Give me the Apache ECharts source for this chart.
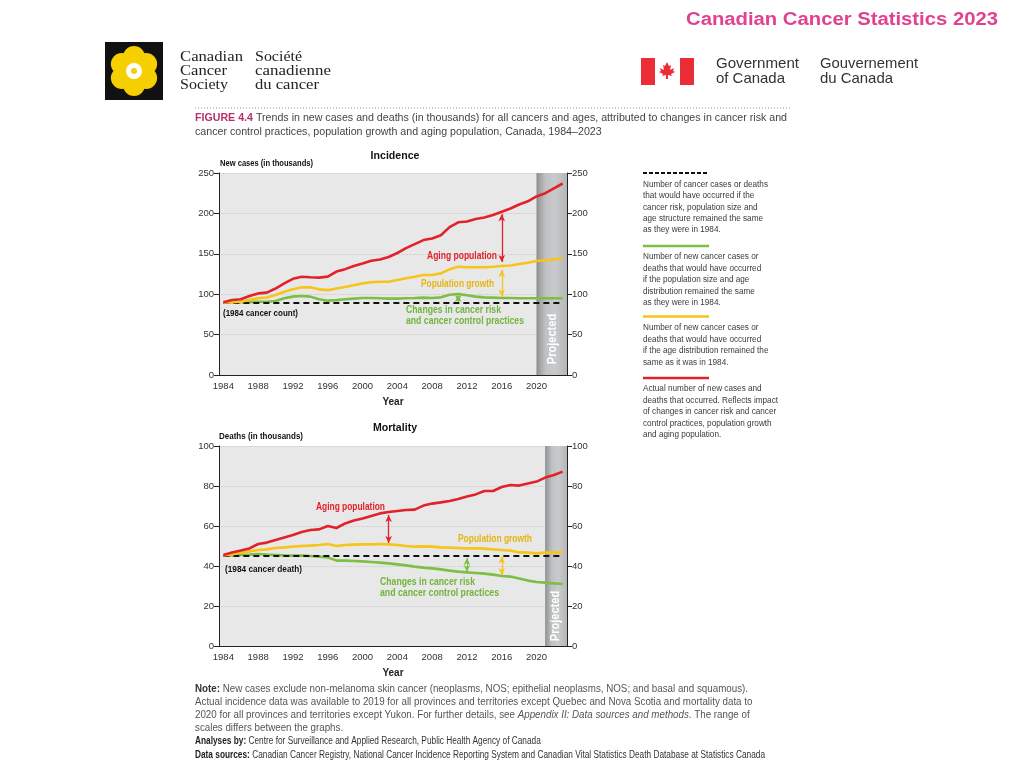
<!DOCTYPE html>
<html><head><meta charset="utf-8">
<script src="https://cdn.jsdelivr.net/npm/echarts@6/dist/echarts.min.js"></script>
<style>html,body{margin:0;padding:0;background:#fff}#c{width:1024px;height:768px}</style>
</head><body><div id="c"></div>
<script>
// ---------- DATA ----------
const years = ['1984','1985','1986','1987','1988','1989','1990','1991','1992','1993','1994','1995','1996','1997','1998','1999','2000','2001','2002','2003','2004','2005','2006','2007','2008','2009','2010','2011','2012','2013','2014','2015','2016','2017','2018','2019','2020','2021','2022','2023'];
// Incidence (new cases, thousands)
const incActual = [90,92.8,93.7,97.8,101,102,107,113.4,119,121.6,121,120.5,121.7,128,131,135,138,141.5,143,146,151,157,162,167,169,173,183,189,190,193,195,198,202,206,211,215,221,225,231,237];
const incPopGrowth = [89.5,90.2,90.7,93,95,96,99,103,106,108.5,108.5,106,105,107,109,111,113.4,114.7,115.5,115.5,117.6,119.7,121.7,123.8,123.8,125.8,130.8,134,133.3,133.3,133.3,134,135,135.5,137.4,139,141,142,143,144.5];
const incRisk = [89.5,90,90,90.2,90.7,90.7,91.6,94.9,97,97.8,97,93.7,92,92.7,93.7,94.5,95.3,95.3,95,94.5,94.5,95,95.3,95.8,95.3,96.1,99.4,100.2,98.6,97,96.1,95.8,95.3,95.3,95,95,95,95,95,95];
const incBase = 89.5;
const incProjectedFrom = 2020;
// Mortality (deaths, thousands)
const mortActual = [45.5,46.7,47.7,48.8,51,51.7,53,54.3,55.5,57,58,58.3,60,59,61.3,62.7,63.7,65,66.3,67,67.5,68,68.2,70.2,71.2,71.8,72.5,73.5,74.8,75.8,77.5,77.5,79.5,80.5,80.2,81.2,82.2,84.2,85.5,87.2];
const mortPopGrowth = [45.3,45.8,46.7,47.3,48,48.3,49,49.3,49.7,50,50.2,50.5,51,50,50.5,50.7,50.8,50.8,51,50.8,50.5,50,49.7,49.8,49.7,49.3,49.2,49,48.8,48.8,48.7,48.3,48,47.7,46.8,46.7,46.3,46.7,46.7,46.7];
const mortRisk = [45.3,45.3,45.5,45.7,46,45.7,45.5,45.3,45.2,45.2,45,44.7,44.3,42.7,42.7,42.5,42.3,42,41.7,41.3,40.8,40.3,39.7,39.2,38.8,38.3,37.7,37.2,36.8,36.5,36.2,35.7,35,34.7,33.7,32.7,32,31.7,31.3,31];
const mortBase = 45;
const mortProjectedFrom = 2021;
// Annotation arrows: [year, from, to]
const incArrowAging = ['2016', 199, 140];
const incArrowPop = ['2016', 130, 97];
const incArrowRisk = ['2011', 90.5, 99];
const mortArrowAging = ['2003', 65.5, 51.5];
const mortArrowPop = ['2016', 44.7, 35.5];
const mortArrowRisk = ['2012', 44, 37];
// Axis ticks
const incTicks = {min:0, max:250, interval:50};
const mortTicks = {min:0, max:100, interval:20};

// ---------- STYLE / HELPERS ----------
const FAM = "'Liberation Sans',Arial,sans-serif";
const SERIF = "'Liberation Serif',serif";
const RED = '#e2222a', YEL = '#f7c41a', GRN = '#7dbf44', YELT = '#e6b513', GRNT = '#72b43c';
const bandColor = {type:'linear', x:0, y:0, x2:1, y2:0, colorStops:[
  {offset:0, color:'#7e8082'},{offset:0.06, color:'#999b9d'},{offset:0.3, color:'#bfc1c3'},{offset:0.6, color:'#c8cacb'},{offset:1, color:'#b4b6b8'}]};

const mctx = document.createElement('canvas').getContext('2d');
function fontStr(seg){ return (seg.st||'normal') + ' ' + (seg.w||'normal') + ' ' + seg.s + 'px ' + (seg.f||FAM); }
function segWidth(segs){ return segs.reduce((a,sg)=>{ mctx.font = fontStr(sg); return a + mctx.measureText(sg.t).width; }, 0); }
// rich text element; scale = horizontal scale
function rtext(x, y, segs, scale, align, extra){
  const rich = {}; let text = '';
  segs.forEach((sg,i)=>{
    rich['s'+i] = {fontFamily:sg.f||FAM, fontSize:sg.s, fontWeight:sg.w||'normal', fontStyle:sg.st||'normal', fill:sg.c, lineHeight:sg.s+2};
    text += '{s'+i+'|' + sg.t.replace(/[{}|]/g,'') + '}';
  });
  return Object.assign({type:'text', x, y, z:100, zlevel:0, silent:true, scaleX:scale, scaleY:1,
    style:{text, rich, fill:segs[0].c, textAlign:align||'left', textVerticalAlign:'middle'}}, extra||{});
}
function fitScale(segs, target){ return target / segWidth(segs); }
function ftext(x, y, segs, target, align, extra){ return rtext(x, y, segs, fitScale(segs, target), align, extra); }
const S = (t, s, c, w, st, f) => ({t, s, c, w, st, f});

const chart = echarts.init(document.getElementById('c'), null, {renderer:'canvas'});

function xCat(gi){
  return {type:'category', gridIndex:gi, data:years, boundaryGap:true,
    axisLine:{lineStyle:{color:'#222', width:1}},
    axisTick:{alignWithLabel:true, interval:0, length:5, lineStyle:{color:'#222'}},
    axisLabel:{interval:3, color:'#333', fontFamily:FAM, fontSize:9.5, margin:6},
    name:'Year', nameLocation:'middle', nameGap:22,
    nameTextStyle:{fontFamily:FAM, fontWeight:'bold', fontSize:10, color:'#222'}};
}
function xVal(gi){
  return {type:'value', gridIndex:gi, min:1983.5, max:2023.5, show:false, splitLine:{show:false}};
}
function yAx(gi, t, pos){
  return {type:'value', gridIndex:gi, position:pos, min:t.min, max:t.max, interval:t.interval,
    axisLine:{show:true, lineStyle:{color:'#222'}},
    axisTick:{show:true, length:5, lineStyle:{color:'#222'}},
    axisLabel:{color:'#333', fontFamily:FAM, fontSize:9.5, margin:5},
    splitLine:{show:pos==='left', lineStyle:{color:'#cacaca', type:'dotted', width:1}}};
}
function line(name, data, color, xi, yi, z){
  return {name, type:'line', data, xAxisIndex:xi, yAxisIndex:yi, symbol:'none', z,
    lineStyle:{color, width:2.6}, itemStyle:{color}, silent:true, animation:false};
}
function arrowML(a, color, w){
  return {silent:true, symbol:['arrow','arrow'], symbolSize:[5,7], label:{show:false}, animation:false,
    lineStyle:{type:'solid', color, width:w},
    data:[[{coord:[a[0], a[1]]}, {coord:[a[0], a[2]]}]]};
}
function baseML(v){
  return {silent:true, symbol:'none', label:{show:false}, lineStyle:{color:'#111', width:2.2, type:[6,4]},
    data:[[{coord:[years[0], v]}, {coord:[years[years.length-1], v]}]]};
}

const mapleLeaf = [[0,-9],[2,-5],[4,-6],[3,-1],[7,-3],[6,0],[8,1],[4,3],[5,5],[1,4],[1,8],[-1,8],[-1,4],[-5,5],[-4,3],[-8,1],[-6,0],[-7,-3],[-3,-1],[-4,-6],[-2,-5]].map(p=>[667+p[0], 71+p[1]]);

const petals = [];
for (let i=0;i<6;i++){
  const a = i*Math.PI/3 - Math.PI/2;
  petals.push({type:'circle', z:100, shape:{cx:134+Math.cos(a)*14, cy:71+Math.sin(a)*14, r:11}, style:{fill:'#f5cf00'}, silent:true});
}

// legend
const LG = 9.6;
const legScale = fitScale([S('Number of cancer cases or deaths', LG)], 125);
const legendBlocks = [
  {y:173, dash:true, color:'#111', lines:['Number of cancer cases or deaths','that would have occurred if the','cancer risk, population size and','age structure remained the same','as they were in 1984.'], ty:184},
  {y:246, color:GRN, lines:['Number of new cancer cases or','deaths that would have occurred','if the population size and age','distribution remained the same','as they were in 1984.'], ty:256.5},
  {y:316.5, color:YEL, lines:['Number of new cancer cases or','deaths that would have occurred','if the age distribution remained the','same as it was in 1984.'], ty:327.5},
  {y:378, color:RED, lines:['Actual number of new cases and','deaths that occurred. Reflects impact','of changes in cancer risk and cancer','control practices, population growth','and aging population.'], ty:388.5}
];
const legendEls = [];
legendBlocks.forEach(b=>{
  legendEls.push({type:'line', z:100, silent:true, shape:{x1:643, y1:b.y, x2:709, y2:b.y},
    style:{stroke:b.color, lineWidth:b.dash?2:2.6, lineDash:b.dash?[4,2]:null}});
  b.lines.forEach((t,i)=> legendEls.push(rtext(643, b.ty + i*11.45, [S(t, LG, '#3a3a3a')], legScale)));
});

// figure title
const t1 = [S('FIGURE 4.4', 11, '#b5316a', 'bold'), S(' Trends in new cases and deaths (in thousands) for all cancers and ages, attributed to changes in cancer risk and', 11, '#444')];
const titleScale = fitScale(t1, 592);
// footer
const n1 = [S('Note:', 10, '#333', 'bold'), S(' New cases exclude non-melanoma skin cancer (neoplasms, NOS; epithelial neoplasms, NOS; and basal and squamous).', 10, '#555')];
const noteScale = fitScale(n1, 553);
const ds = [S('Data sources:', 10, '#222', 'bold'), S(' Canadian Cancer Registry, National Cancer Incidence Reporting System and Canadian Vital Statistics Death Database at Statistics Canada', 10, '#333')];
const dsScale = fitScale(ds, 570);

const AB = 10; // annotation bold size
const option = {
  animation:false,
  backgroundColor:'#ffffff',
  grid:[
    {left:219, top:173, width:348, height:202, show:true, backgroundColor:'#e8e8e8', borderWidth:0},
    {left:219, top:446, width:348, height:200, show:true, backgroundColor:'#e8e8e8', borderWidth:0}
  ],
  xAxis:[xCat(0), xVal(0), xCat(1), xVal(1)],
  yAxis:[yAx(0, incTicks, 'left'), yAx(0, incTicks, 'right'), yAx(1, mortTicks, 'left'), yAx(1, mortTicks, 'right')],
  series:[
    {type:'line', xAxisIndex:1, yAxisIndex:0, data:[], silent:true, z:1,
      markArea:{silent:true, itemStyle:{color:bandColor}, data:[[{xAxis:incProjectedFrom},{xAxis:2023.5}]]}},
    {type:'line', xAxisIndex:3, yAxisIndex:2, data:[], silent:true, z:1,
      markArea:{silent:true, itemStyle:{color:bandColor}, data:[[{xAxis:mortProjectedFrom},{xAxis:2023.5}]]}},
    Object.assign(line('Risk', incRisk, GRN, 0, 0, 3), {markLine:arrowML(incArrowRisk, GRN, 1)}),
    Object.assign(line('Base', [], '#000', 0, 0, 4), {markLine:baseML(incBase)}),
    Object.assign(line('PopGrowth', incPopGrowth, YEL, 0, 0, 5), {markLine:arrowML(incArrowPop, YEL, 1.3)}),
    Object.assign(line('Actual', incActual, RED, 0, 0, 6), {markLine:arrowML(incArrowAging, RED, 1.3)}),
    Object.assign(line('Risk', mortRisk, GRN, 2, 2, 3), {markLine:arrowML(mortArrowRisk, GRN, 1)}),
    Object.assign(line('Base', [], '#000', 2, 2, 4), {markLine:baseML(mortBase)}),
    Object.assign(line('PopGrowth', mortPopGrowth, YEL, 2, 2, 5), {markLine:arrowML(mortArrowPop, YEL, 1.3)}),
    Object.assign(line('Actual', mortActual, RED, 2, 2, 6), {markLine:arrowML(mortArrowAging, RED, 1.3)})
  ],
  graphic:[
    // header title
    ftext(686, 20, [S('Canadian Cancer Statistics 2023', 18, '#e2418f', 'bold')], 312),
    // Canadian Cancer Society logo
    {type:'rect', z:100, shape:{x:105, y:42, width:58, height:58}, style:{fill:'#111'}, silent:true},
    ...petals,
    {type:'circle', z:100, shape:{cx:134, cy:71, r:8}, style:{fill:'#ffffff'}, silent:true},
    {type:'circle', z:100, shape:{cx:134, cy:71, r:3}, style:{fill:'#f5cf00'}, silent:true},
    ftext(180, 57, [S('Canadian', 15, '#222', 'normal', null, SERIF)], 63),
    ftext(180, 71, [S('Cancer', 15, '#222', 'normal', null, SERIF)], 47),
    ftext(180, 85, [S('Society', 15, '#222', 'normal', null, SERIF)], 48),
    ftext(255, 57, [S('Société', 15, '#222', 'normal', null, SERIF)], 47),
    ftext(255, 71, [S('canadienne', 15, '#222', 'normal', null, SERIF)], 76),
    ftext(255, 85, [S('du cancer', 15, '#222', 'normal', null, SERIF)], 64),
    // Government of Canada
    {type:'rect', z:100, shape:{x:641, y:58, width:14, height:27}, style:{fill:'#eb2d37'}, silent:true},
    {type:'rect', z:100, shape:{x:680, y:58, width:14, height:27}, style:{fill:'#eb2d37'}, silent:true},
    {type:'polygon', z:100, shape:{points:mapleLeaf}, style:{fill:'#eb2d37'}, silent:true},
    ftext(716, 64, [S('Government', 14.5, '#333')], 83),
    ftext(716, 79, [S('of Canada', 14.5, '#333')], 69),
    ftext(820, 64, [S('Gouvernement', 14.5, '#333')], 98),
    ftext(820, 79, [S('du Canada', 14.5, '#333')], 73),
    // separator
    {type:'line', z:100, silent:true, shape:{x1:195, y1:108, x2:790, y2:108}, style:{stroke:'#999', lineWidth:1, lineDash:[1,2]}},
    // figure title
    rtext(195, 118, t1, titleScale),
    rtext(195, 132, [S('cancer control practices, population growth and aging population, Canada, 1984–2023', 11, '#444')], titleScale),
    // chart titles
    rtext(395, 156, [S('Incidence', 11.5, '#111', 'bold')], 0.92, 'center'),
    ftext(220, 163, [S('New cases (in thousands)', 9.5, '#111', 'bold')], 93),
    rtext(395, 428, [S('Mortality', 11.5, '#111', 'bold')], 0.92, 'center'),
    ftext(219, 436, [S('Deaths (in thousands)', 9.5, '#111', 'bold')], 84),
    // incidence annotations
    ftext(427, 256, [S('Aging population', AB, RED, 'bold')], 70),
    ftext(421, 284, [S('Population growth', AB, YELT, 'bold')], 73),
    ftext(406, 310, [S('Changes in cancer risk', AB, GRNT, 'bold')], 95),
    ftext(406, 321, [S('and cancer control practices', AB, GRNT, 'bold')], 118),
    ftext(223, 313, [S('(1984 cancer count)', 9.5, '#111', 'bold')], 75),
    rtext(553, 339, [S('Projected', 12, '#ffffff', 'bold')], 0.92, 'center', {rotation:Math.PI/2}),
    // mortality annotations
    ftext(316, 507, [S('Aging population', AB, RED, 'bold')], 69),
    ftext(458, 539, [S('Population growth', AB, YELT, 'bold')], 74),
    ftext(380, 582, [S('Changes in cancer risk', AB, GRNT, 'bold')], 95),
    ftext(380, 593, [S('and cancer control practices', AB, GRNT, 'bold')], 119),
    ftext(225, 569, [S('(1984 cancer death)', 9.5, '#111', 'bold')], 77),
    rtext(556, 616, [S('Projected', 12, '#ffffff', 'bold')], 0.92, 'center', {rotation:Math.PI/2}),
    // legend
    ...legendEls,
    // footer
    rtext(195, 689, n1, noteScale),
    rtext(195, 702, [S('Actual incidence data was available to 2019 for all provinces and territories except Quebec and Nova Scotia and mortality data to', 10, '#555')], noteScale),
    rtext(195, 715, [S('2020 for all provinces and territories except Yukon. For further details, see ', 10, '#555'), S('Appendix II: Data sources and methods', 10, '#555', 'normal', 'italic'), S('. The range of', 10, '#555')], noteScale),
    rtext(195, 728, [S('scales differs between the graphs.', 10, '#555')], noteScale),
    rtext(195, 741, [S('Analyses by:', 10, '#222', 'bold'), S(' Centre for Surveillance and Applied Research, Public Health Agency of Canada', 10, '#333')], dsScale),
    rtext(195, 755, ds, dsScale)
  ]
};
chart.setOption(option);
</script>
</body></html>
